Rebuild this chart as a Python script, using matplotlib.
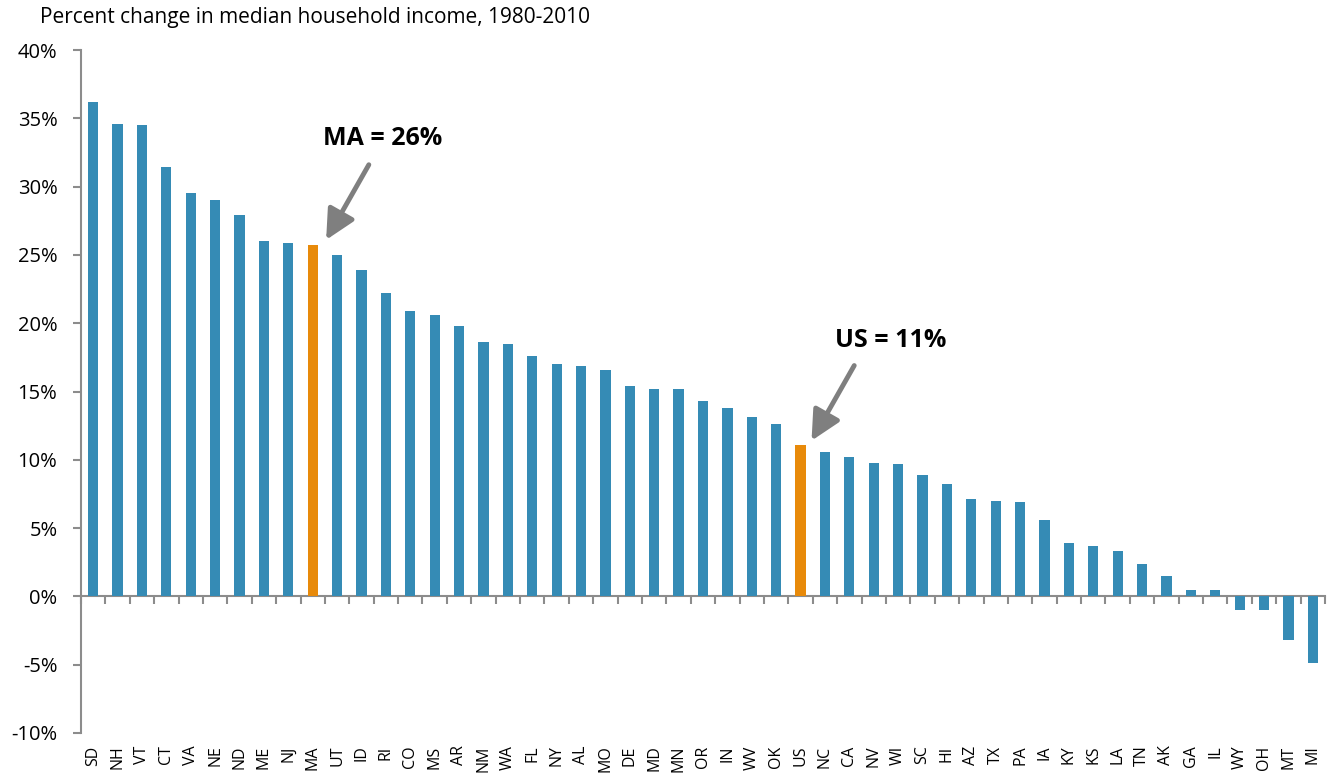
import matplotlib
matplotlib.use("Agg")
import matplotlib.pyplot as plt
import numpy as np

plt.rcParams['font.family'] = ['Open Sans', 'DejaVu Sans']

states = ["SD", "NH", "VT", "CT", "VA", "NE", "ND", "ME", "NJ", "MA", "UT", "ID", "RI",
          "CO", "MS", "AR", "NM", "WA", "FL", "NY", "AL", "MO", "DE", "MD", "MN", "OR",
          "IN", "WV", "OK", "US", "NC", "CA", "NV", "WI", "SC", "HI", "AZ", "TX", "PA",
          "IA", "KY", "KS", "LA", "TN", "AK", "GA", "IL", "WY", "OH", "MT", "MI"]
values = [36.2, 34.6, 34.5, 31.4, 29.5, 29.0, 27.9, 26.0, 25.9, 25.7, 25.0, 23.9, 22.2,
          20.9, 20.6, 19.8, 18.6, 18.5, 17.6, 17.0, 16.9, 16.6, 15.4, 15.2, 15.2, 14.3,
          13.8, 13.1, 12.6, 11.1, 10.6, 10.2, 9.8, 9.7, 8.9, 8.2, 7.1, 7.0, 6.9,
          5.6, 3.9, 3.7, 3.3, 2.4, 1.5, 0.5, 0.5, -1.0, -1.0, -3.2, -4.9]
highlight = ["MA", "US"]
yticks = [-10, -5, 0, 5, 10, 15, 20, 25, 30, 35, 40]
title = "Percent change in median household income, 1980-2010"

BLUE = "#358BB5"
ORANGE = "#E88A0A"
GRAY = "#8C8C8C"

fig = plt.figure(figsize=(13.35, 7.76), dpi=100)
ax = fig.add_axes([81/1335, 1 - 733/776, (1325-81)/1335, (733-50)/776])

x = np.arange(len(states))
colors = [ORANGE if s in highlight else BLUE for s in states]
ax.bar(x, values, width=0.42, color=colors, zorder=2)

ax.set_xlim(-0.5, len(states) - 0.5)
ax.set_ylim(-10, 40)
ax.set_yticks(yticks)
ax.set_yticklabels([f"{v}%" for v in yticks])
ax.tick_params(axis='y', length=6, width=1.5, color=GRAY, labelsize=14.5, pad=11,
               labelcolor='black')

ax.set_xticks(x)
ax.set_xticklabels(states, rotation=90, fontsize=11.5)
ax.tick_params(axis='x', length=0, pad=9)

for side in ['top', 'right', 'bottom']:
    ax.spines[side].set_visible(False)
ax.spines['left'].set_color(GRAY)
ax.spines['left'].set_linewidth(1.5)

# zero axis line with category boundary ticks
sec = ax.secondary_xaxis(10/50)
sec.set_xticks(np.arange(len(states) + 1) - 0.5)
sec.set_xticklabels([])
sec.tick_params(axis='x', direction='out', length=6, width=1.5, color=GRAY)
sec.spines['bottom'].set_color(GRAY)
sec.spines['bottom'].set_linewidth(1.5)

fig.text(40/1335, 1 - 17/776, title, fontsize=15, va='center', ha='left')

# annotations
i_ma = states.index("MA")
i_us = states.index("US")
arrow = dict(arrowstyle='-|>,head_length=0.9,head_width=0.45', lw=3.5, color='#7F7F7F',
             mutation_scale=20, shrinkA=0, shrinkB=0)
ax.annotate('', xy=(i_ma + 0.55, values[i_ma] + 0.4), xytext=(i_ma + 2.3, 31.6),
            arrowprops=arrow)
ax.text(i_ma + 2.85, 33.5, "MA = 26%", fontsize=18, fontweight='bold', ha='center', va='center')
ax.annotate('', xy=(i_us + 0.45, values[i_us] + 0.3), xytext=(i_us + 2.2, 16.9),
            arrowprops=arrow)
ax.text(i_us + 3.7, 18.7, "US = 11%", fontsize=18, fontweight='bold', ha='center', va='center')

fig.savefig("out.png", dpi=100)
